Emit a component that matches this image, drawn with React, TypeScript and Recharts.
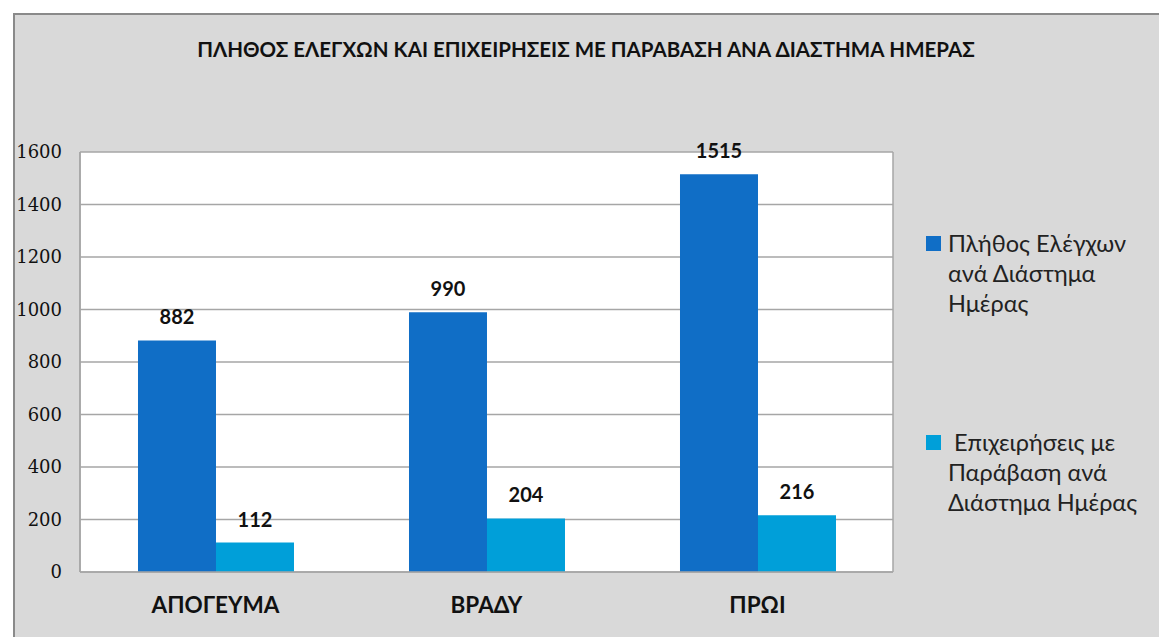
import React from "react";
import {
  BarChart,
  Bar,
  XAxis,
  YAxis,
  CartesianGrid,
  LabelList,
} from "recharts";

const categories = ["ΑΠΟΓΕΥΜΑ", "ΒΡΑΔΥ", "ΠΡΩΙ"];
const checks = [882, 990, 1515];
const violations = [112, 204, 216];
const yTicks = [0, 200, 400, 600, 800, 1000, 1200, 1400, 1600];
const seriesNames = [
  "Πλήθος Ελέγχων ανά Διάστημα Ημέρας",
  "Επιχειρήσεις με Παράβαση ανά Διάστημα Ημέρας",
];
const legendLines = [
  ["Πλήθος Ελέγχων", "ανά Διάστημα", "Ημέρας"],
  ["\u00a0Επιχειρήσεις με", "Παράβαση ανά", "Διάστημα Ημέρας"],
];
const seriesColors = ["#106ec6", "#009fd9"];
const title =
  "ΠΛΗΘΟΣ ΕΛΕΓΧΩΝ ΚΑΙ ΕΠΙΧΕΙΡΗΣΕΙΣ ΜΕ ΠΑΡΑΒΑΣΗ ΑΝΑ ΔΙΑΣΤΗΜΑ ΗΜΕΡΑΣ";

const data = categories.map((c, i) => ({
  name: c,
  checks: checks[i],
  violations: violations[i],
}));

const sansFont = "Lato, 'Open Sans', sans-serif";

const labelStyle = {
  fill: "#111",
  fontFamily: sansFont,
  fontWeight: 700,
  fontSize: 20,
};

export default function App() {
  return (
    <div
      style={{
        position: "absolute",
        left: 0,
        top: 0,
        width: 1159,
        height: 637,
        overflow: "hidden",
        background: "#ffffff",
      }}
    >
      <div
        style={{
          position: "absolute",
          left: 13,
          top: 13,
          width: 1170,
          height: 650,
          background: "#d9d9d9",
          border: "2px solid #8a8a8a",
          boxSizing: "border-box",
        }}
      />
      <div
        style={{
          position: "absolute",
          left: 13,
          top: 37,
          width: 1146,
          textAlign: "center",
          fontFamily: sansFont,
          fontSize: 20.5,
          fontWeight: 700,
          color: "#111",
          whiteSpace: "nowrap",
        }}
      >
        {title}
      </div>
      <div style={{ position: "absolute", left: 0, top: 0 }}>
        <BarChart
          width={1159}
          height={637}
          data={data}
          margin={{ top: 152, right: 266, bottom: 35, left: 0 }}
          barCategoryGap="21.4%"
          barGap={0}
        >
          <CartesianGrid
            fill="#ffffff"
            stroke="#a6a6a6"
            strokeWidth={1.5}
            verticalCoordinatesGenerator={({ offset }: any) => [
              offset.left,
              offset.left + offset.width,
            ]}
          />
          <XAxis
            dataKey="name"
            height={30}
            tickLine={false}
            tickSize={0}
            tickMargin={25}
            axisLine={{ stroke: "#a6a6a6", strokeWidth: 1.5 }}
            tick={{
              fill: "#111",
              fontFamily: sansFont,
              fontWeight: 700,
              fontSize: 22.5,
            }}
          />
          <YAxis
            width={80}
            domain={[0, 1600]}
            ticks={yTicks}
            interval={0}
            tickLine={false}
            tickSize={0}
            tickMargin={18}
            axisLine={{ stroke: "#a6a6a6", strokeWidth: 1.5 }}
            tick={{
              fill: "#111",
              fontFamily: "'DejaVu Serif', serif",
              fontSize: 18,
            }}
          />
          <Bar
            dataKey="checks"
            name={seriesNames[0]}
            fill={seriesColors[0]}
            isAnimationActive={false}
          >
            <LabelList dataKey="checks" position="top" offset={16} style={labelStyle} />
          </Bar>
          <Bar
            dataKey="violations"
            name={seriesNames[1]}
            fill={seriesColors[1]}
            isAnimationActive={false}
          >
            <LabelList dataKey="violations" position="top" offset={16} style={labelStyle} />
          </Bar>
        </BarChart>
      </div>
      <div
        style={{
          position: "absolute",
          left: 926,
          top: 228,
          fontFamily: sansFont,
          fontSize: 23.5,
          color: "#222",
        }}
      >
        {legendLines.map((lines, i) => (
          <div
            key={i}
            title={seriesNames[i]}
            style={{
              display: "flex",
              alignItems: "flex-start",
              marginBottom: i === 0 ? 109 : 0,
            }}
          >
            <div
              style={{
                width: 15,
                height: 15,
                background: seriesColors[i],
                marginTop: 8,
                marginRight: 7,
                flexShrink: 0,
              }}
            />
            <div style={{ lineHeight: "30px", whiteSpace: "nowrap" }}>
              {lines.map((l, j) => (
                <div key={j}>{l}</div>
              ))}
            </div>
          </div>
        ))}
      </div>
    </div>
  );
}
